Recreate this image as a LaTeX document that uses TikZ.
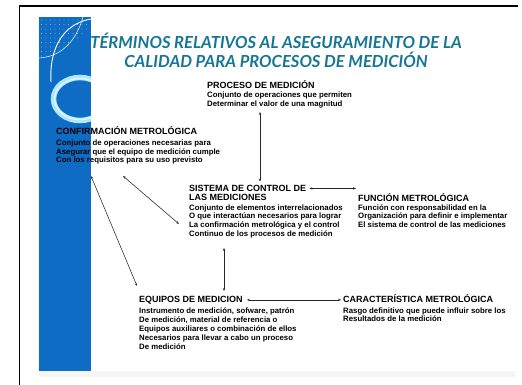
\documentclass[tikz,border=0pt]{standalone}
\usepackage{fontspec}
\setmainfont{Liberation Sans}
\newfontfamily\titlefont{Lato}
\usetikzlibrary{arrows.meta}
\definecolor{barblue}{RGB}{15,108,196}
\definecolor{titleteal}{RGB}{22,118,150}
\definecolor{ringcyan}{RGB}{175,232,250}
\newcommand{\hdf}{\fontsize{9}{10}\selectfont\bfseries}
\newcommand{\bdf}{\fontsize{7.8}{9}\selectfont\bfseries}
\begin{document}
\begin{tikzpicture}[x=1pt,y=-1pt,
  hd/.style={anchor=base west, inner sep=0pt, font=\hdf},
  ln/.style={anchor=base west, inner sep=0pt, font=\bdf},
  arr/.style={draw=black!85, line width=0.55pt, {Stealth[length=3pt,width=2.4pt]}-{Stealth[length=3pt,width=2.4pt]}},
  frameline/.style={line width=1.4pt, draw=black}]
\useasboundingbox (0,0) rectangle (522,385);
\fill[white] (0,0) rectangle (522,385);
% faint shadow
\fill[black!4] (39,371) rectangle (515,377);
% frame
\draw[frameline] (19.2,392) -- (19.2,6) -- (518,6);
% blue bar
\fill[barblue] (39,17) rectangle (91,371);
\begin{scope}
  \clip (39,17) rectangle (91,371);
  \begin{scope}
    \clip (39,17) -- (91,17) -- (91,30) .. controls (75,40) and (60,52) .. (39,60) -- cycle;
    \foreach \x in {41.5,46,...,90} \foreach \y in {20,24.5,...,58}
      \fill[white!75!barblue] (\x,\y) circle (0.45);
  \end{scope}
  \draw[white!85!barblue, line width=0.6pt] (39,58) .. controls (58,57) and (75,45) .. (83,17);
  \draw[white, line width=0.9pt] (91,19) .. controls (62,24) and (49,50) .. (51,82);
  \draw[ringcyan, line width=5.5pt] (80,99) ellipse [x radius=26.5, y radius=21.5];
  \draw[white!60!ringcyan, line width=1.4pt] (80,99) ellipse [x radius=25.5, y radius=20.5];
\end{scope}
% title
\node[font=\titlefont\bfseries\itshape\fontsize{16.6}{19.5}\selectfont, text=titleteal, align=center, inner sep=0pt] (title) at (276,50.5)
  {TÉRMINOS RELATIVOS AL ASEGURAMIENTO DE LA\\CALIDAD PARA PROCESOS DE MEDICIÓN};
% PROCESO
\node[hd] (procH) at (207,88.4) {PROCESO DE MEDICIÓN};
\node[ln] (procB1) at (207,98) {Conjunto de operaciones que permiten};
\node[ln] (procB2) at (207,106.8) {Determinar el valor de una magnitud};
% CONFIRMACION
\node[hd] (confH) at (56,134.9) {CONFIRMACIÓN METROLÓGICA};
\node[ln] (confB1) at (56,145.3) {Conjunto de operaciones necesarias para};
\node[ln] (confB2) at (56,154) {Asegurar que el equipo de medición cumple};
\node[ln] (confB3) at (56,162.8) {Con los requisitos para su uso previsto};
% SISTEMA
\node[hd] (sisH) at (189,191.4) {SISTEMA DE CONTROL DE};
\node[hd] (sisH2) at (189,200.6) {LAS MEDICIONES};
\node[ln] (sisB1) at (189,210) {Conjunto de elementos interrelacionados};
\node[ln] (sisB2) at (189,218.8) {O que interactúan necesarios para lograr};
\node[ln] (sisB3) at (189,227.6) {La confirmación metrológica y el control};
\node[ln] (sisB4) at (189,236.4) {Continuo de los procesos de medición};
% FUNCION
\node[hd] (funH) at (358,201.7) {FUNCIÓN METROLÓGICA};
\node[ln] (funB1) at (358,210) {Función con responsabilidad en la};
\node[ln] (funB2) at (358,218.8) {Organización para definir e implementar};
\node[ln] (funB3) at (358,227.6) {El sistema de control de las mediciones};
% EQUIPOS
\node[hd] (eqH) at (139,302.9) {EQUIPOS DE MEDICION};
\node[ln] (eqB1) at (139,313.5) {Instrumento de medición, sofware, patrón};
\node[ln] (eqB2) at (139,322.5) {De medición, material de referencia o};
\node[ln] (eqB3) at (139,331.5) {Equipos auxiliares o combinación de ellos};
\node[ln] (eqB4) at (139,340.5) {Necesarios para llevar a cabo un proceso};
\node[ln] (eqB5) at (139,349.5) {De medición};
% CARACTERISTICA
\node[hd] (carH) at (343,302.9) {CARACTERÍSTICA METROLÓGICA};
\node[ln] (carB1) at (343,313) {Rasgo definitivo que puede influir sobre los};
\node[ln] (carB2) at (343,321.5) {Resultados de la medición};
% connector end points
\coordinate (a1s) at (260,112);
\coordinate (a1e) at (260,181.5);
\coordinate (a2s) at ([xshift=3pt,yshift=3pt]sisH.base east);
\coordinate (a2e) at ([xshift=-2pt]funH.west |- a2s);
\coordinate (a3s) at (91,176);
\coordinate (a3e) at (137,286);
\coordinate (a4s) at (123,176);
\coordinate (a4e) at (179,224);
\coordinate (a5s) at (224,248);
\coordinate (a5e) at (224,291);
\coordinate (a6s) at ([xshift=4pt,yshift=3pt]eqH.base east);
\coordinate (a6e) at ([xshift=-2pt,yshift=3pt]carH.base west);
% connectors
\draw[arr] (a1s) -- (a1e);
\draw[arr] (a2s) -- (a2e);
\draw[arr] (a3s) -- (a3e);
\draw[arr] (a4s) -- (a4e);
\draw[arr] (a5s) -- (a5e);
\draw[arr] (a6s) -- (a6e);
\end{tikzpicture}
\end{document}
